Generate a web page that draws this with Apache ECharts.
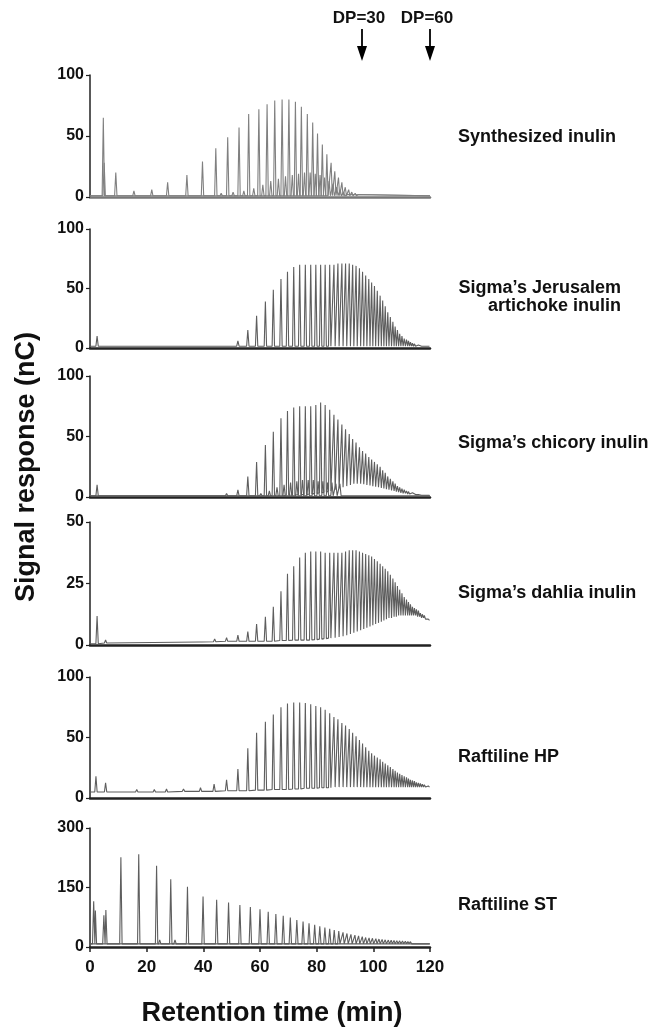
<!DOCTYPE html>
<html>
<head>
<meta charset="utf-8">
<title>Inulin HPAEC chromatograms</title>
<script src="https://cdn.jsdelivr.net/npm/echarts@6/dist/echarts.min.js"></script>
<style>
    html, body { margin: 0; padding: 0; background: #fff; }
    #chart { width: 652px; height: 1030px; }
</style>
</head>
<body>
<div id="chart"></div>
<script>
// ---- data (time in min, signal in nC) ----

// Synthesized inulin
const synTime = [4.7, 9.1, 15.5, 21.8, 27.4, 34.2, 39.7, 44.4, 48.6, 52.6, 56.0, 59.6, 62.5, 65.2, 67.8, 70.2, 72.5, 74.6, 76.7, 78.6, 80.3, 82.0, 83.6, 85.1, 86.4, 87.7, 88.9, 90.1, 91.3, 92.4, 93.6, 94.8];
const synHeight = [65, 20, 5, 6, 12, 18, 29, 40, 49, 57, 68, 72, 76, 79, 80, 80, 78, 74, 68, 61, 52, 43, 35, 28, 21, 16, 12, 8, 6, 4, 3, 2];
const synMinorTime = [5.0, 41.8, 46.3, 50.5, 54.3, 57.8, 61.0, 63.8, 66.5, 69.0, 71.4, 73.6, 75.7, 77.7, 79.5, 81.2, 82.8, 84.4, 85.8, 87.1, 88.3, 89.5, 90.7];
const synMinorHeight = [28, 2, 3, 4, 5, 7, 10, 13, 15, 17, 18, 19, 20, 20, 19, 18, 16, 13, 11, 8, 6, 4, 2];
const synFoot = 1;

// Sigma's Jerusalem artichoke inulin
const jerTime = [2.5, 10.6, 39.0, 44.0, 48.2, 52.2, 55.7, 58.8, 61.9, 64.7, 67.4, 69.7, 71.9, 74.0, 76.0, 77.9, 79.7, 81.4, 83.0, 84.6, 86.1, 87.5, 88.9, 90.2, 91.5, 92.7, 93.9, 95.1, 96.2, 97.3, 98.4, 99.4, 100.4, 101.4, 102.4, 103.3, 104.2, 105.1, 106.0, 106.9, 107.7, 108.5, 109.3, 110.1, 110.9, 111.7, 112.4, 113.1, 113.8, 114.5, 115.2, 115.9, 116.6, 117.3, 118.0, 118.7, 119.4];
const jerHeight = [10, 1, 1.5, 2.5, 3, 6, 15, 27, 39, 49, 58, 64, 68, 70, 70, 70, 70, 70, 70, 70, 70, 71, 71, 71, 71, 70, 69, 67, 64, 61, 58, 55, 52, 48, 44, 40, 35, 30, 26, 22, 18, 15, 12, 10, 8, 7, 6, 5, 4, 3.5, 3, 2.5, 2, 2, 1.5, 1.5, 1.5];
const jerFoot = 1.5;

// Sigma's chicory inulin
const chiTime = [2.5, 5.9, 39.0, 44.0, 48.2, 52.2, 55.7, 58.8, 61.9, 64.7, 67.4, 69.7, 71.9, 74.0, 76.0, 77.9, 79.7, 81.4, 83.0, 84.6, 86.1, 87.5, 88.9, 90.2, 91.5, 92.7, 93.9, 95.1, 96.2, 97.3, 98.4, 99.4, 100.4, 101.4, 102.4, 103.3, 104.2, 105.1, 106.0, 106.9, 107.7, 108.5, 109.3, 110.1, 110.9, 111.7, 112.4, 113.1, 113.8, 114.5, 115.2, 115.9, 116.6, 117.3, 118.0, 118.7, 119.4];
const chiHeight = [10, 2, 1.5, 2, 3, 6, 17, 29, 43, 54, 65, 71, 74, 75, 75, 75, 76, 78, 76, 72, 68, 64, 60, 56, 52, 48, 45, 41, 38, 36, 33, 31, 29, 27, 25, 22, 20, 17, 15, 13, 11, 9, 8, 7, 6, 5, 4.5, 4, 3.5, 3, 2.5, 2, 2, 1.5, 1.5, 1.5, 1.5];
const chiFoot = [1, 1, 1, 1, 1, 1, 1, 1, 1, 1, 1, 1.5, 1.5, 2, 2, 2.5, 3, 3.5, 4, 5, 6, 7, 8, 9, 10, 11, 11, 11, 10.5, 10, 9.5, 9, 8.5, 8, 7.5, 7, 6.5, 6, 5.5, 5, 4.5, 4, 3.5, 3, 3, 2.5, 2.5, 2, 2, 2, 1.5, 1.5, 1.5, 1.5, 1.5, 1.5, 1.5];
const chiMinorTime = [60.3, 63.3, 66.0, 68.5, 70.8, 73.0, 75.0, 77.0, 78.8, 80.5, 82.2, 83.8, 85.4, 86.8, 88.2];
const chiMinorHeight = [3, 5, 8, 10, 12, 13, 14, 14, 14, 13, 13, 12, 12, 11, 11];

// Sigma's dahlia inulin
const dahTime = [2.5, 5.5, 39.0, 44.0, 48.2, 52.2, 55.7, 58.8, 61.9, 64.7, 67.4, 69.7, 71.9, 74.0, 76.0, 77.9, 79.7, 81.4, 83.0, 84.6, 86.1, 87.5, 88.9, 90.2, 91.5, 92.7, 93.9, 95.1, 96.2, 97.3, 98.4, 99.4, 100.4, 101.4, 102.4, 103.3, 104.2, 105.1, 106.0, 106.9, 107.7, 108.5, 109.3, 110.1, 110.9, 111.7, 112.4, 113.1, 113.8, 114.5, 115.2, 115.9, 116.6, 117.3, 118.0, 118.7, 119.4];
const dahHeight = [11.8, 2, 2, 2.5, 3, 4, 5.5, 8.5, 11.5, 15.5, 21.8, 29, 32, 35.6, 37.5, 38, 38, 38, 37.5, 37.5, 37.5, 37.5, 37.5, 38, 38.5, 38.5, 38.5, 38, 37.5, 37, 36.5, 36, 35, 34, 33, 32, 31, 30, 28.5, 27, 25.5, 24, 22.5, 21, 19.5, 18.5, 17.5, 16.5, 15.5, 15, 14.5, 14, 13, 12.5, 12, 11, 10.5];
const dahFoot = [0.5, 0.8, 1.2, 1.3, 1.5, 1.5, 1.5, 1.5, 1.5, 1.5, 1.8, 1.8, 2, 2, 2, 2, 2.2, 2.4, 2.6, 2.8, 3, 3.3, 3.6, 4, 4.5, 5, 5.5, 6, 6.5, 7, 7.5, 8, 8.5, 9, 9.5, 10, 10.5, 11, 11, 11.5, 11.5, 12, 12, 12, 12, 12, 12, 12, 12, 12, 11.5, 11.5, 11, 11, 10.5, 10.5, 10];

// Raftiline HP
const hpTime = [2.1, 5.5, 10.6, 16.5, 22.7, 27.0, 33.0, 39.0, 43.8, 48.2, 52.2, 55.7, 58.8, 61.9, 64.7, 67.4, 69.7, 71.9, 74.0, 76.0, 77.9, 79.7, 81.4, 83.0, 84.6, 86.1, 87.5, 88.9, 90.2, 91.5, 92.7, 93.9, 95.1, 96.2, 97.3, 98.4, 99.4, 100.4, 101.4, 102.4, 103.3, 104.2, 105.1, 106.0, 106.9, 107.7, 108.5, 109.3, 110.1, 110.9, 111.7, 112.4, 113.1, 113.8, 114.5, 115.2, 115.9, 116.6, 117.3, 118.0, 118.7, 119.4];
const hpHeight = [18, 12.5, 6.5, 7, 7, 7.5, 7.5, 8.5, 11.5, 15, 24, 41, 54, 63, 69, 75, 78, 79, 79, 78.5, 77.5, 76, 75, 73, 70, 67, 65, 62, 60, 57, 54, 51, 48, 45, 42, 39, 37, 35, 33.5, 32, 30, 28.5, 27, 25.5, 24, 22.5, 21, 20, 19, 18, 17, 16, 15, 14.5, 14, 13, 12.5, 12, 11.5, 11, 10.5, 10];
const hpFoot = [5, 5, 5, 5, 5, 5, 5.5, 5.5, 5.5, 6, 6, 6, 6.5, 6.5, 7, 7, 7, 7.5, 7.5, 8, 8, 8, 8.5, 8.5, 8.5, 9, 9, 9, 9, 9, 9, 9, 9, 9, 9, 9, 9, 9, 9, 9, 9, 9, 9, 9, 9, 9, 9, 9, 9, 9, 9, 9, 9, 9, 9, 9, 9, 9, 9, 9, 9, 9];

// Raftiline ST
const stTime = [1.3, 1.9, 4.9, 5.6, 10.9, 17.2, 23.5, 28.5, 34.4, 39.9, 44.7, 48.9, 52.9, 56.6, 60.0, 62.9, 65.6, 68.2, 70.7, 73.0, 75.2, 77.3, 79.3, 81.1, 82.9, 84.6, 86.2, 87.8, 89.3, 90.7, 92.1, 93.5, 94.8, 96.1, 97.3, 98.5, 99.7, 100.9, 102.0, 103.1, 104.2, 105.3, 106.3, 107.3, 108.3, 109.3, 110.3, 111.3, 112.2, 113.1, 114.0, 114.9, 115.8, 116.7, 117.6, 118.5, 119.4];
const stHeight = [115, 92, 80, 93, 226, 234, 205, 171, 152, 127, 119, 112, 106, 101, 95, 89, 83, 79, 74, 68, 64, 60, 56, 52, 49, 46, 43, 40, 37, 34, 32, 30, 28, 26, 24, 23, 22, 21, 20, 19, 18, 17.5, 17, 16.5, 16, 15.5, 15, 14.5, 14, 13.5, 13, 12.5, 12, 12, 11.5, 11.5, 11];
const stMinorTime = [17.8, 24.6, 30.0, 37.0, 42.8, 47.8];
const stMinorHeight = [13, 18, 18, 10, 9, 8];
const stFoot = 8;

// panel names, y ranges and y tick steps
const panelNames = ['Synthesized inulin', 'Sigma\u2019s Jerusalem\nartichoke inulin', 'Sigma\u2019s chicory inulin', 'Sigma\u2019s dahlia inulin', 'Raftiline HP', 'Raftiline ST'];
const yMax = [100, 100, 100, 50, 100, 300];
const yStep = [50, 50, 50, 25, 50, 150];

// time axis and DP markers
const timeMax = 120;
const timeStep = 20;
const dpLabels = ['DP=30', 'DP=60'];
const dpTimes = [96, 120];

// ---- layout ----
const FONT = '"Liberation Sans", Arial, Helvetica, sans-serif';
const gridTop = [75, 229, 376, 522, 677, 828];
const gridHeight = [122, 119, 121, 123, 121, 119];
const labelY = [137, 297, 443, 593, 757, 905];
const peakColor = '#5e5e5e';
const axisColor = '#222';

const panels = [
    {major: [synTime, synHeight, synFoot], minor: [synMinorTime, synMinorHeight, synFoot]},
    {major: [jerTime, jerHeight, jerFoot]},
    {major: [chiTime, chiHeight, chiFoot], minor: [chiMinorTime, chiMinorHeight, 1]},
    {major: [dahTime, dahHeight, dahFoot]},
    {major: [hpTime, hpHeight, hpFoot]},
    {major: [stTime, stHeight, stFoot], minor: [stMinorTime, stMinorHeight, stFoot]}
];

// one narrow spike per peak, feet on the local baseline
function peakLine(times, heights, foot) {
    const w = 0.42;
    const footAt = i => Array.isArray(foot) ? foot[i] : foot;
    const data = [[0, footAt(0)]];
    times.forEach((t, i) => {
        data.push([t - w, footAt(i)], [t, heights[i]], [t + w, footAt(i)]);
    });
    data.push([timeMax, footAt(times.length - 1)]);
    return data;
}

const chart = echarts.init(document.getElementById('chart'));

const grids = [], xAxes = [], yAxes = [], series = [];
panels.forEach((p, i) => {
    const last = i === panels.length - 1;
    grids.push({left: 90, width: 340, top: gridTop[i], height: gridHeight[i]});
    xAxes.push({
        type: 'value', gridIndex: i, min: 0, max: timeMax, interval: timeStep,
        axisLine: {show: true, lineStyle: {color: i === 0 ? '#777' : axisColor, width: 2.5}},
        axisTick: {show: last, length: 5, lineStyle: {color: axisColor, width: 1.5}},
        axisLabel: {show: last, margin: 12, color: '#111', fontFamily: FONT, fontWeight: 'bold', fontSize: 17},
        splitLine: {show: false}
    });
    yAxes.push({
        type: 'value', gridIndex: i, min: 0, max: yMax[i], interval: yStep[i],
        axisLine: {show: true, lineStyle: {color: axisColor, width: 1.5}},
        axisTick: {show: true, length: 4, lineStyle: {color: axisColor, width: 1.2}},
        axisLabel: {margin: 6, color: '#111', fontFamily: FONT, fontWeight: 'bold', fontSize: 16},
        splitLine: {show: false}
    });
    const sets = p.minor ? [p.minor, p.major] : [p.major];
    sets.forEach(s => {
        series.push({
            type: 'line', xAxisIndex: i, yAxisIndex: i,
            data: peakLine(s[0], s[1], s[2]),
            symbol: 'none', silent: true,
            lineStyle: {color: i === 0 ? '#808080' : peakColor, width: 1.1}
        });
    });
});

// texts: panel names and axis titles
const textStyle = (text, size, align) => ({
    text: text, fill: '#111', font: 'bold ' + size + 'px ' + FONT,
    textAlign: align, textVerticalAlign: 'middle', lineHeight: 18
});
const graphics = panelNames.map((name, i) => {
    if (name.indexOf('\n') >= 0) {
        return {type: 'text', x: 621, y: labelY[i], style: textStyle(name, 18, 'right')};
    }
    return {type: 'text', x: 458, y: labelY[i], style: textStyle(name, 18, 'left')};
});
graphics.push({type: 'text', x: 272, y: 1014, style: textStyle('Retention time (min)', 27, 'center')});
graphics.push({type: 'text', x: 27, y: 467, rotation: Math.PI / 2, style: textStyle('Signal response (nC)', 27, 'center')});

chart.setOption({
    animation: false,
    backgroundColor: '#fff',
    grid: grids,
    xAxis: xAxes,
    yAxis: yAxes,
    series: series,
    graphic: graphics
});

// DP arrows placed on the time axis
dpTimes.forEach((t, k) => {
    const x = chart.convertToPixel({xAxisIndex: 0}, t);
    graphics.push(
        {type: 'text', x: x - 3, y: 18, style: textStyle(dpLabels[k], 17, 'center')},
        {type: 'line', shape: {x1: x, y1: 29, x2: x, y2: 48}, style: {stroke: '#000', lineWidth: 1.8}},
        {type: 'polygon', shape: {points: [[x - 5, 46], [x + 5, 46], [x, 61]]}, style: {fill: '#000'}}
    );
});
chart.setOption({graphic: graphics});

window.addEventListener('resize', () => {
    chart.resize();
});
</script>
</body>
</html>
